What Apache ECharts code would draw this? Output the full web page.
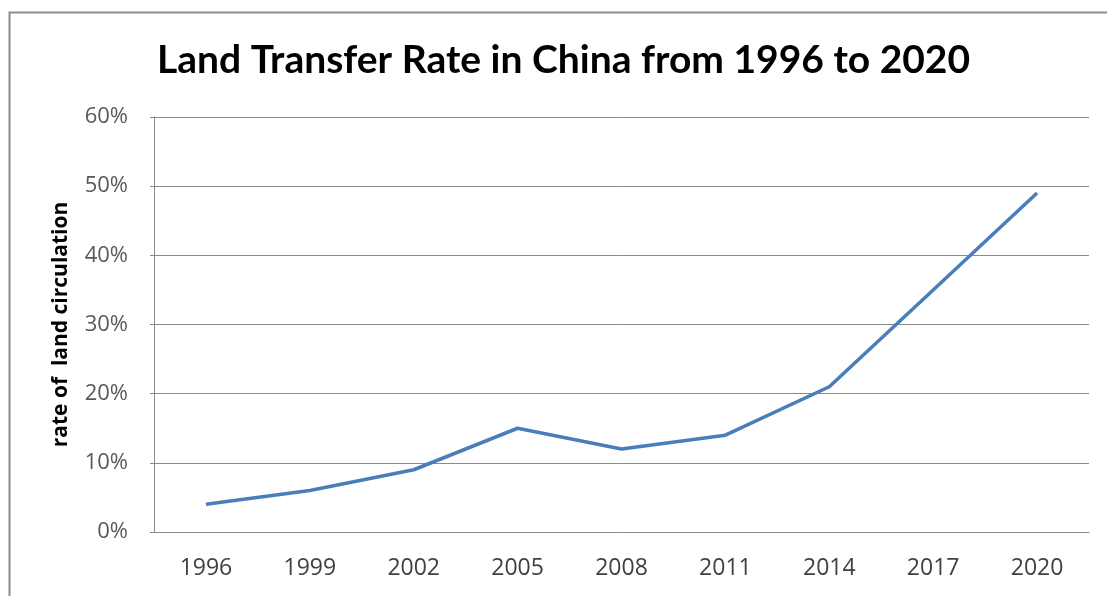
<!DOCTYPE html>
<html>
<head>
<meta charset="utf-8">
<script src="https://cdn.jsdelivr.net/npm/echarts@6/dist/echarts.min.js"></script>
<style>html,body{margin:0;padding:0;background:#fff;}#c{width:1107px;height:596px;}</style>
</head>
<body>
<div id="c"></div>
<script>
const years = ['1996','1999','2002','2005','2008','2011','2014','2017','2020'];
const rates = [4, 6, 9, 15, 12, 14, 21, 35, 49];
const yTicks = [0, 10, 20, 30, 40, 50, 60];
const titleText = 'Land Transfer Rate in China from 1996 to 2020';
const yName = 'rate of  land circulation';

const chart = echarts.init(document.getElementById('c'), null, {renderer: 'canvas'});
chart.setOption({
  backgroundColor: '#ffffff',
  animation: false,
  graphic: [{
    type: 'rect', left: 7, top: 10,
    shape: {x: 0, y: 0, width: 1200, height: 700},
    style: {fill: 'none', stroke: '#8c8c8c', lineWidth: 2},
    silent: true, z: -1
  }],
  title: {
    text: titleText,
    left: 152, top: 36,
    textStyle: {fontFamily: 'Lato', fontWeight: 'bold', fontSize: 39, color: '#000'}
  },
  grid: {left: 154, right: 18, top: 117, bottom: 64},
  xAxis: {
    type: 'category',
    data: years,
    boundaryGap: true,
    axisLine: {show: true, lineStyle: {color: '#8a8a8a', width: 1}},
    axisTick: {show: false},
    axisLabel: {color: '#404040', fontSize: 23, fontFamily: 'Open Sans', margin: 25}
  },
  yAxis: {
    type: 'value',
    min: 0, max: 60, interval: 10,
    name: yName,
    nameLocation: 'middle',
    nameGap: 82,
    nameTextStyle: {color: '#000', fontSize: 21, fontWeight: 'bold', fontFamily: 'Open Sans'},
    axisLine: {show: true, lineStyle: {color: '#8a8a8a', width: 1}},
    axisTick: {show: true, length: 4, lineStyle: {color: '#8a8a8a'}},
    splitLine: {show: true, lineStyle: {color: '#8a8a8a', width: 1}},
    axisLabel: {
      color: '#595959', fontSize: 22, fontFamily: 'Open Sans', margin: 26,
      formatter: v => (yTicks.indexOf(v) >= 0 ? v + '%' : '')
    }
  },
  series: [{
    type: 'line',
    data: rates,
    symbol: 'none',
    lineStyle: {color: '#4a7ebb', width: 3.5},
    itemStyle: {color: '#4a7ebb'}
  }]
});
</script>
</body>
</html>
